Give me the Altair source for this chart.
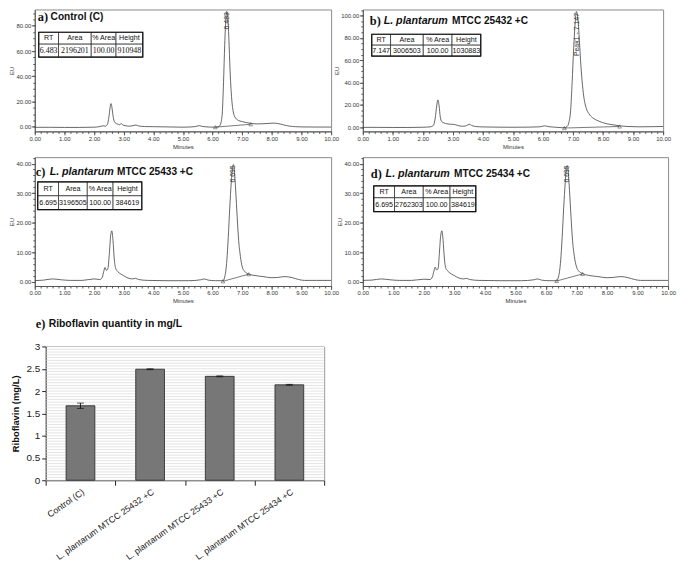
import altair as alt
import pandas as pd

SANS = "Liberation Sans, Arial, sans-serif"
SERIF = "Liberation Serif, Times New Roman, serif"

# ---------------- chromatogram traces: (minutes, EU) ----------------
trace_a = [
    (0.0, -0.3), (0.5, -0.3), (1.0, -0.4), (1.5, -0.4), (2.0, -0.2), (2.2, 0.3), (2.3, 0.9),
    (2.38, 0.6), (2.45, 2.0), (2.5, 7.5), (2.54, 15.0), (2.57, 18.5), (2.6, 16.0), (2.64, 9.0),
    (2.68, 4.5), (2.73, 3.0), (2.8, 2.2), (2.86, 1.8), (2.92, 2.6), (2.97, 1.6), (3.05, 1.0),
    (3.2, 0.6), (3.35, 1.2), (3.42, 1.5), (3.5, 0.8), (3.7, 0.3), (4.0, 0.2), (4.5, 0.0),
    (5.0, -0.2), (5.4, 0.2), (5.55, 1.0), (5.65, 0.4), (5.9, -0.1), (6.1, -0.2), (6.22, 0.4),
    (6.28, 3.0), (6.33, 12.0), (6.37, 35.0), (6.41, 65.0), (6.45, 86.0), (6.48, 91.4),
    (6.51, 88.0), (6.55, 70.0), (6.59, 45.0), (6.64, 24.0), (6.69, 13.0), (6.75, 8.0),
    (6.85, 5.5), (7.0, 4.2), (7.15, 3.4), (7.3, 2.8), (7.5, 2.4), (7.7, 2.5), (7.9, 2.8),
    (8.05, 3.0), (8.2, 2.7), (8.4, 1.6), (8.6, 0.6), (8.8, 0.2), (9.0, 0.0), (9.5, -0.1),
    (10.0, -0.1),
]
trace_b = [
    (0.0, -0.2), (0.5, -0.2), (1.0, -0.3), (1.5, -0.3), (2.0, -0.1), (2.25, 0.3), (2.35, 1.5),
    (2.41, 8.0), (2.46, 19.0), (2.5, 24.4), (2.54, 19.0), (2.58, 9.0), (2.63, 5.0), (2.7, 3.8),
    (2.8, 3.0), (2.95, 2.6), (3.05, 2.4), (3.2, 1.2), (3.35, 0.8), (3.45, 1.4), (3.55, 2.6),
    (3.62, 1.6), (3.75, 0.6), (4.0, 0.2), (4.5, 0.0), (5.0, -0.1), (5.5, 0.0), (5.9, 0.3),
    (6.05, 1.2), (6.2, 0.4), (6.5, -0.2), (6.7, -0.6), (6.8, 0.5), (6.86, 4.0), (6.92, 15.0),
    (6.97, 40.0), (7.02, 70.0), (7.07, 93.0), (7.11, 103.7), (7.15, 100.0), (7.2, 83.0),
    (7.25, 60.0), (7.3, 42.0), (7.36, 27.0), (7.44, 17.0), (7.53, 12.0), (7.65, 8.5),
    (7.85, 5.5), (8.1, 3.2), (8.3, 2.2), (8.55, 1.2), (8.8, 0.6), (9.2, 0.3), (9.6, 0.4),
    (10.0, 0.6),
]
trace_c = [
    (0.0, 0.3), (0.3, 0.5), (0.6, 0.9), (0.9, 0.6), (1.2, 0.4), (1.6, 0.4), (2.0, 0.9),
    (2.2, 0.7), (2.28, 1.5), (2.33, 3.5), (2.37, 4.8), (2.42, 3.8), (2.47, 4.5), (2.52, 10.0),
    (2.56, 15.5), (2.6, 17.2), (2.64, 14.0), (2.68, 8.0), (2.73, 4.5), (2.8, 3.4), (2.9, 2.6),
    (3.0, 2.0), (3.15, 1.2), (3.3, 0.9), (3.4, 1.1), (3.5, 0.7), (3.8, 0.4), (4.5, 0.3),
    (5.2, 0.3), (5.6, 0.6), (5.72, 0.9), (5.85, 0.5), (6.1, 0.3), (6.35, 0.3), (6.42, 2.0),
    (6.48, 7.0), (6.53, 15.0), (6.58, 25.0), (6.63, 33.5), (6.68, 39.0), (6.71, 39.7),
    (6.74, 37.0), (6.78, 31.0), (6.83, 22.0), (6.88, 14.0), (6.94, 8.5), (7.0, 5.0),
    (7.08, 3.5), (7.2, 2.6), (7.4, 2.1), (7.7, 1.7), (8.0, 1.3), (8.2, 1.4), (8.45, 1.7),
    (8.7, 1.3), (8.9, 0.7), (9.1, 0.4), (9.5, 0.4), (10.0, 0.4),
]
trace_d = [
    (0.0, 0.4), (0.3, 0.5), (0.6, 0.9), (0.9, 0.6), (1.2, 0.4), (1.6, 0.4), (2.0, 0.8),
    (2.2, 0.7), (2.28, 1.6), (2.33, 3.6), (2.37, 4.9), (2.42, 3.9), (2.47, 4.6), (2.51, 10.0),
    (2.55, 15.5), (2.59, 17.2), (2.63, 14.0), (2.67, 8.0), (2.72, 4.5), (2.8, 3.4), (2.9, 2.6),
    (3.0, 2.0), (3.15, 1.2), (3.3, 0.9), (3.4, 1.1), (3.5, 0.7), (3.8, 0.4), (4.5, 0.3),
    (5.2, 0.3), (5.6, 0.6), (5.72, 0.9), (5.85, 0.5), (6.1, 0.3), (6.35, 0.3), (6.42, 2.0),
    (6.48, 7.0), (6.53, 15.0), (6.58, 25.0), (6.63, 33.5), (6.67, 38.8), (6.7, 39.3),
    (6.73, 37.0), (6.77, 31.0), (6.82, 22.0), (6.87, 14.0), (6.93, 8.5), (7.0, 5.0),
    (7.08, 3.5), (7.2, 2.7), (7.4, 2.1), (7.7, 1.7), (8.0, 1.3), (8.2, 1.4), (8.45, 1.7),
    (8.7, 1.3), (8.9, 0.7), (9.1, 0.4), (9.5, 0.4), (10.0, 0.4),
]

# integration baseline end points (triangles)
baseline_a = [(6.09, -0.2), (7.29, 2.1)]
baseline_b = [(6.71, -0.8), (8.55, 0.6)]
baseline_c = [(6.35, 0.1), (7.22, 2.5)]
baseline_d = [(6.35, 0.2), (7.2, 2.6)]

# peak labels (minutes, EU at label centre, text)
peak_a = (6.483, 84.0, "6.483")
peak_b = (7.147, 83.0, "Peak1 - 7.147")
peak_c = (6.695, 36.5, "6.695")
peak_d = (6.695, 36.5, "6.695")

# result tables
table_header = ["RT", "Area", "% Area", "Height"]
table_a = ["6.483", "2196201", "100.00", "910948"]
table_b = ["7.147", "3006503", "100.00", "1030883"]
table_c = ["6.695", "3196505", "100.00", "384619"]
table_d = ["6.695", "2762303", "100.00", "384619"]

# panel titles: (letter, italic part, plain part)
title_a = ("a)", "", "Control (C)")
title_b = ("b)", "L. plantarum", "MTCC 25432 +C")
title_c = ("c)", "L. plantarum", "MTCC 25433 +C")
title_d = ("d)", "L. plantarum", "MTCC 25434 +C")
title_e = ("e)", "", "Riboflavin quantity in mg/L")

# bar chart
bar_categories = ["Control (C)", "L. plantarum MTCC 25432 +C",
                  "L. plantarum MTCC 25433 +C", "L. plantarum MTCC 25434 +C"]
bar_values = [1.67, 2.49, 2.33, 2.14]
bar_errors = [0.06, 0.01, 0.01, 0.01]
bar_ticks = [0, 0.5, 1, 1.5, 2, 2.5, 3]

# ---------------- layout (page pixels) ----------------
ROW_Y = [8, 157, 313]
COL_X = [34, 365]
E_LEFT, E_RIGHT = 45, 326          # bar-chart plot area (page x)


def text_layer(s, x, y, font, size, style="normal", weight="bold", color="#111"):
    return alt.Chart(pd.DataFrame({"s": [s]})).mark_text(
        font=font, fontSize=size, fontStyle=style, fontWeight=weight, color=color,
        align="left", baseline="middle"
    ).encode(x=alt.value(x), y=alt.value(y), text="s:N")


def chromatogram(trace, baseline, peak, row, row_font, row_size, title, origin, size, ydom,
                 ymajor, yminor, cols, rows, tpos):
    ox, oy = origin
    w, h = size
    xs = alt.Scale(domain=[0, 10], nice=False, zero=False)
    ys = alt.Scale(domain=ydom, nice=False, zero=False)
    df = pd.DataFrame(trace, columns=["t", "eu"])
    bdf = pd.DataFrame(baseline, columns=["t", "eu"])
    pdf = pd.DataFrame([peak], columns=["t", "eu", "label"])
    ax = dict(labelFont=SANS, labelFontSize=6, labelColor="#333", titleFont=SANS,
              titleFontSize=6, titleFontWeight="normal", titleColor="#333",
              domainColor="#555", tickColor="#555", tickSize=3.5, grid=False, labelPadding=0.5)
    line = alt.Chart(df).mark_line(color="#404040", strokeWidth=0.8, interpolate="monotone").encode(
        x=alt.X("t:Q", scale=xs, axis=alt.Axis(orient="bottom", values=list(range(11)), format=".2f",
                                              title="Minutes", titlePadding=2, labelFlush=False, **ax)),
        y=alt.Y("eu:Q", scale=ys, axis=alt.Axis(orient="left", values=ymajor, format=".2f",
                                               title="EU", titlePadding=1, **ax)),
    )
    minor_x = [i / 5 for i in range(51)]
    marks = alt.Chart(bdf).mark_point(shape="triangle-up", filled=False, size=14, color="#333",
                                      strokeWidth=0.7).encode(
        x=alt.X("t:Q", scale=xs, axis=alt.Axis(orient="bottom", values=minor_x, labels=False, domain=False,
                                              tickSize=2, tickColor="#555", title=None, grid=False)),
        y=alt.Y("eu:Q", scale=ys, axis=alt.Axis(orient="left", values=yminor, labels=False, domain=False,
                                               tickSize=2, tickColor="#555", title=None, grid=False)),
    )
    base = alt.Chart(bdf).mark_line(color="#404040", strokeWidth=0.7).encode(
        x=alt.X("t:Q", scale=xs, axis=None), y=alt.Y("eu:Q", scale=ys, axis=None))
    plabel = alt.Chart(pdf).mark_text(angle=270, font=SANS, fontSize=7, color="#333").encode(
        x=alt.X("t:Q", scale=xs, axis=None), y=alt.Y("eu:Q", scale=ys, axis=None), text="label:N")

    cells = []
    for r, vals in enumerate([table_header, row]):
        for c, v in enumerate(vals):
            cells.append(dict(x0=cols[c] - ox, x1=cols[c + 1] - ox, y0=rows[r] - oy, y1=rows[r + 1] - oy,
                              xm=(cols[c] + cols[c + 1]) / 2 - ox, ym=(rows[r] + rows[r + 1]) / 2 - oy,
                              text=v, r=r))
    cdf = pd.DataFrame(cells)
    rects = alt.Chart(cdf).mark_rect(fill="white", stroke="#222", strokeWidth=0.7).encode(
        x=alt.X("x0:Q", scale=None), x2="x1:Q", y=alt.Y("y0:Q", scale=None), y2="y1:Q")
    outer = alt.Chart(pd.DataFrame([dict(x0=cols[0] - ox, x1=cols[-1] - ox, y0=rows[0] - oy,
                                         y1=rows[-1] - oy)])).mark_rect(
        fillOpacity=0, stroke="#111", strokeWidth=1.2).encode(
        x=alt.X("x0:Q", scale=None), x2="x1:Q", y=alt.Y("y0:Q", scale=None), y2="y1:Q")
    htext = alt.Chart(cdf[cdf.r == 0]).mark_text(font=SANS, fontSize=7.2, color="#111").encode(
        x=alt.X("xm:Q", scale=None), y=alt.Y("ym:Q", scale=None), text="text:N")
    vtext = alt.Chart(cdf[cdf.r == 1]).mark_text(font=row_font, fontSize=row_size, color="#111").encode(
        x=alt.X("xm:Q", scale=None), y=alt.Y("ym:Q", scale=None), text="text:N")

    layers = [line, marks, base, plabel, rects, outer, htext, vtext]
    x1, x2, x3, ty = tpos
    layers.append(text_layer(title[0], x1 - ox, ty - oy, SERIF, 12.5))
    if title[1]:
        layers.append(text_layer(title[1], x2 - ox, ty - oy, SANS, 10.8, style="italic"))
    layers.append(text_layer(title[2], x3 - ox, ty - oy, SANS, 10.2))
    return alt.layer(*layers).resolve_axis(x="independent", y="independent").properties(
        width=w, height=h, view=alt.ViewBackground(stroke="#8a8a8a", strokeWidth=1))


pa = chromatogram(trace_a, baseline_a, peak_a, table_a, SERIF, 8, title_a, (COL_X[0], ROW_Y[0]),
                  (333 - COL_X[0], 123), [-3.53, 92.94], [0, 20, 40, 60, 80], list(range(0, 95, 5)),
                  [38, 58, 91, 116, 143], [31, 43, 56], (37, 50, 50, 16))
pb = chromatogram(trace_b, baseline_b, peak_b, table_b, SANS, 7.2, title_b, (COL_X[1], ROW_Y[0]),
                  (303, 123), [-3.8, 105.5], [0, 20, 40, 60, 80, 100], list(range(0, 106, 5)),
                  [374, 393, 426, 455, 484], [33, 44, 55], (372, 386, 455, 20))
pc = chromatogram(trace_c, baseline_c, peak_c, table_c, SANS, 7.2, title_c, (COL_X[0], ROW_Y[1]),
                  (333 - COL_X[0], 130), [-1.5, 42.2], [0, 10, 20, 30, 40], list(range(0, 43, 2)),
                  [37, 58, 87, 113, 142], [182, 196, 210], (35, 49, 117, 172))
pd_ = chromatogram(trace_d, baseline_d, peak_d, table_d, SANS, 7.2, title_d, (COL_X[1], ROW_Y[1]),
                   (308, 130), [-1.5, 42.2], [0, 10, 20, 30, 40], list(range(0, 43, 2)),
                   [376, 397, 426, 453, 479], [186, 198, 212], (373, 388, 457, 174))

# ---------------- bar chart ----------------
edf = pd.DataFrame({"cat": bar_categories, "v": bar_values, "err": bar_errors})
edf["lo"] = edf["v"] - edf["err"]
edf["hi"] = edf["v"] + edf["err"]
gdf = pd.DataFrame({"g": [i / 16 for i in range(49)]})
ew = E_RIGHT - COL_X[0]
el = E_LEFT - COL_X[0]
exs = alt.Scale(domain=bar_categories, range=[el, ew], paddingInner=0, paddingOuter=0)
eys = alt.Scale(domain=[0, 3], range=[170, 35], nice=False, zero=False)

grid = alt.Chart(gdf).mark_rule(strokeWidth=0.6).encode(
    y=alt.Y("g:Q", scale=eys, axis=alt.Axis(
        orient="right", ticks=False, labels=False, domain=True, domainColor="#9a9a9a",
        grid=False, title=None)),
    x=alt.value(el), x2=alt.value(ew),
    color=alt.condition(alt.datum.g >= 3, alt.value("#9a9a9a"), alt.value("#d2d2d2")),
)
bars = alt.Chart(edf).mark_bar(width=29, color="#777777", stroke="#222222", strokeWidth=0.8).encode(
    x=alt.X("cat:N", scale=exs, sort=None, axis=alt.Axis(
        title=None, labelAngle=-35, labelFontSize=8.8, labelFont=SANS, labelColor="#1a1a1a",
        tickBand="extent", tickSize=5, tickColor="#222", domainColor="#222", labelPadding=2)),
    y=alt.Y("v:Q", scale=eys, axis=alt.Axis(
        orient="left", values=bar_ticks, format="~g", offset=-el, grid=False,
        title="Riboflavin (mg/L)", titleFontSize=9.5, titleFontWeight="bold", titleFont=SANS,
        titleColor="#111", labelFontSize=10, labelFont=SANS, labelColor="#222", tickSize=4,
        domainColor="#222", tickColor="#222", labelPadding=2, titlePadding=5)),
)
err = alt.Chart(edf).mark_rule(color="#111", strokeWidth=0.9).encode(
    x=alt.X("cat:N", scale=exs, sort=None, axis=None),
    y=alt.Y("lo:Q", scale=eys, axis=None), y2="hi:Q",
)
cap_lo = alt.Chart(edf).mark_tick(size=7, thickness=1, color="#111").encode(
    x=alt.X("cat:N", scale=exs, sort=None, axis=None), y=alt.Y("lo:Q", scale=eys, axis=None))
cap_hi = alt.Chart(edf).mark_tick(size=7, thickness=1, color="#111").encode(
    x=alt.X("cat:N", scale=exs, sort=None, axis=None), y=alt.Y("hi:Q", scale=eys, axis=None))

pe = alt.layer(
    grid, bars, err, cap_lo, cap_hi,
    text_layer(title_e[0], 35 - COL_X[0], 325 - ROW_Y[2], SERIF, 12.5),
    text_layer(title_e[2], 48 - COL_X[0], 325 - ROW_Y[2], SANS, 10.5),
).resolve_axis(x="independent", y="independent").properties(
    width=ew, height=170, view=alt.ViewBackground(strokeWidth=0))

chart = alt.concat(
    pa, pb, pc, pd_, pe, columns=2,
    spacing=alt.RowColnumber(row=26, column=32), bounds="flush", align="each",
    padding={"top": -2, "left": 0, "right": 0, "bottom": 0},
).configure_view(strokeWidth=0).configure(font=SANS)

chart.save("out.html", embed_options={"renderer": "svg", "actions": False})
